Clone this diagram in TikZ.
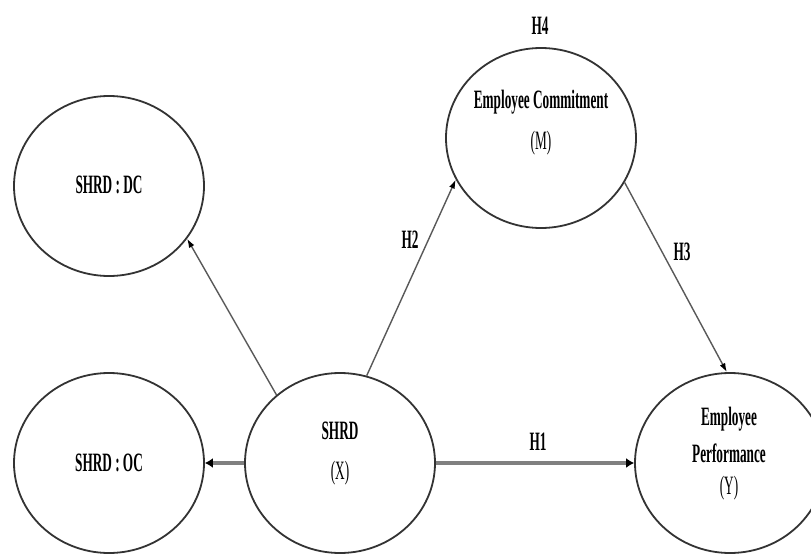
\documentclass[tikz,border=0pt]{standalone}
\usepackage{fontspec}
\setmainfont{Liberation Serif}
\newfontfamily\condfont[FakeStretch=0.5]{Liberation Serif}
\usetikzlibrary{arrows.meta,shapes.geometric}
\tikzset{
  oval/.style={ellipse, draw=black!80, line width=1.8pt, minimum width=190pt, minimum height=180pt, inner sep=0pt},
  txt/.style={font=\condfont\fontsize{26.5}{30}\selectfont\bfseries, text=black, inner sep=0pt},
  txtr/.style={font=\condfont\fontsize{26.5}{30}\selectfont, text=black, inner sep=0pt},
  thinarrow/.style={draw=black!65, line width=1.4pt, -{Latex[length=9pt,width=6pt,black]}},
  thickarrow/.style={draw=black!50, line width=4pt, -{Latex[length=8pt,width=10pt,black]}}
}
\begin{document}
\begin{tikzpicture}[x=1pt,y=-1pt]
\useasboundingbox (0,0) rectangle (811,554);
\clip (0,0) rectangle (811,554);
\fill[white] (0,0) rectangle (811,554);

\node[oval] (dc) at (109,186) {};
\node[oval] (ec) at (541,138) {};
\node[oval] (oc) at (109,463) {};
\node[oval] (x)  at (340,463) {};
\node[oval] (ep) at (730,463) {};

\node[txt] (tdc) at (109,185) {SHRD : DC};
\node[txt] (toc) at (109,463) {SHRD : OC};
\node[txt] (tec) at (541,102) {Employee Commitment};
\node[txtr] (tm) at (541,143) {(M)};
\node[txt] (tx) at (340,431) {SHRD};
\node[txtr] (txx) at (340,473) {(X)};
\node[txt] (tep1) at (729,419) {Employee};
\node[txt] (tep2) at (729,453) {Performance};
\node[txtr] (ty) at (729,488) {(Y)};

\node[txt] (h1) at (538,442) {H1};
\node[txt] (h2) at (410,240) {H2};
\node[txt] (h3) at (682,252) {H3};
\node[txt] (h4) at (540,26) {H4};

\draw[thickarrow] (x.west) -- (oc.east);
\draw[thickarrow] (x.east) -- (ep.west);
\draw[thinarrow] (x.133.7) -- (dc.-34.4);
\draw[thinarrow] (x.73.8) -- (ec.206.6);
\draw[thinarrow] (ec.-28.2) -- (ep.92.5);
\end{tikzpicture}
\end{document}
